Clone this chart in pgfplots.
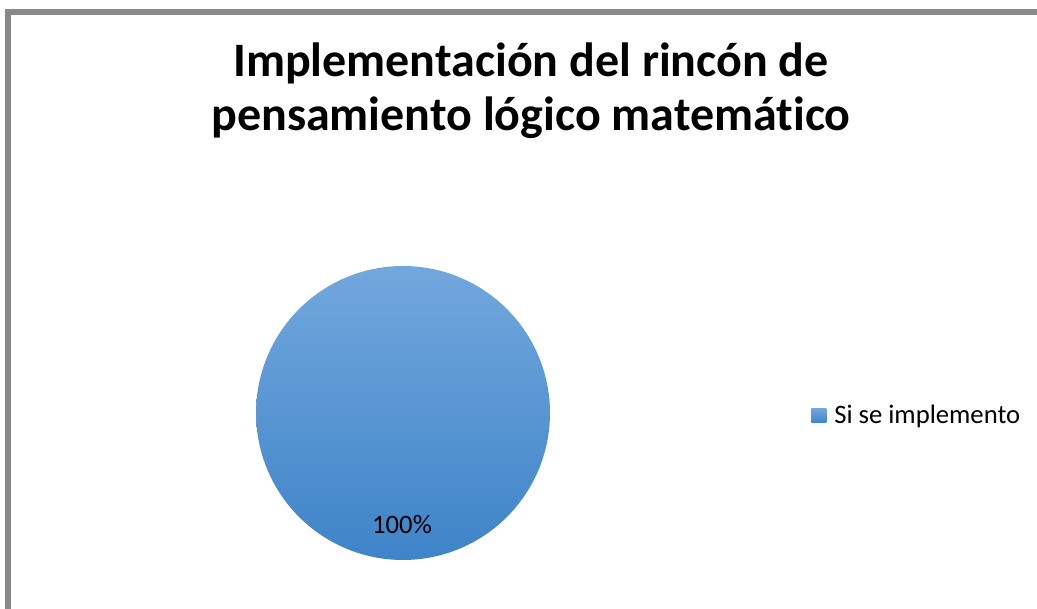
\documentclass[border=0pt]{standalone}
\usepackage{fontspec}
\setmainfont{Carlito}[Ligatures=NoCommon]
\usepackage{pgfplots}
\usepackage{pgfplotstable}
\pgfplotsset{compat=1.18}
\definecolor{pieTop}{RGB}{114,167,221}
\definecolor{pieBot}{RGB}{62,132,200}
\definecolor{frameGray}{RGB}{138,138,138}
\pgfplotstableread{
label value
{Si se implemento} 100
}\piedata
\pgfplotstablegetelem{0}{value}\of\piedata
\let\valA\pgfplotsretval
\begin{document}
\begin{tikzpicture}
\begin{axis}[
  scale only axis, width=777.75pt, height=456.75pt,
  xmin=0, xmax=1037, ymin=0, ymax=609,
  axis lines=none, clip=false,
  legend style={at={(axis cs:811,193.5)}, anchor=west, draw=none, fill=none,
    inner sep=0pt, font=\fontsize{20}{24}\selectfont,
    /tikz/every even column/.style={column sep=0pt},
    /tikz/every odd column/.style={column sep=4pt}},
  legend cell align=left,
]
\draw[frameGray, line width=4.5pt] (axis cs:7.5,0) -- (axis cs:7.5,597) -- (axis cs:1037,597);
\addplot[draw=none, top color=pieTop, bottom color=pieBot, shading=axis,
  domain=90:90-3.6*\valA, samples=240,
  legend image code/.code={\shade[top color=pieTop,bottom color=pieBot] (0pt,-5.6pt) rectangle (11.25pt,5.6pt);}]
  ({403+147*cos(x)},{196+147*sin(x)}) -- cycle;
\addlegendentry{Si se implemento}
\node[font=\fontsize{20}{24}\selectfont] at (axis cs:402,84) {\valA\%};
\node[anchor=base, align=center, font=\bfseries\fontsize{36}{40.5}\selectfont] at (axis cs:531,478)
  {Implementación del rincón de\\pensamiento lógico matemático};
\end{axis}
\pgfresetboundingbox
\path[use as bounding box] (0,0) rectangle (777.75pt,456.75pt);
\end{tikzpicture}
\end{document}
